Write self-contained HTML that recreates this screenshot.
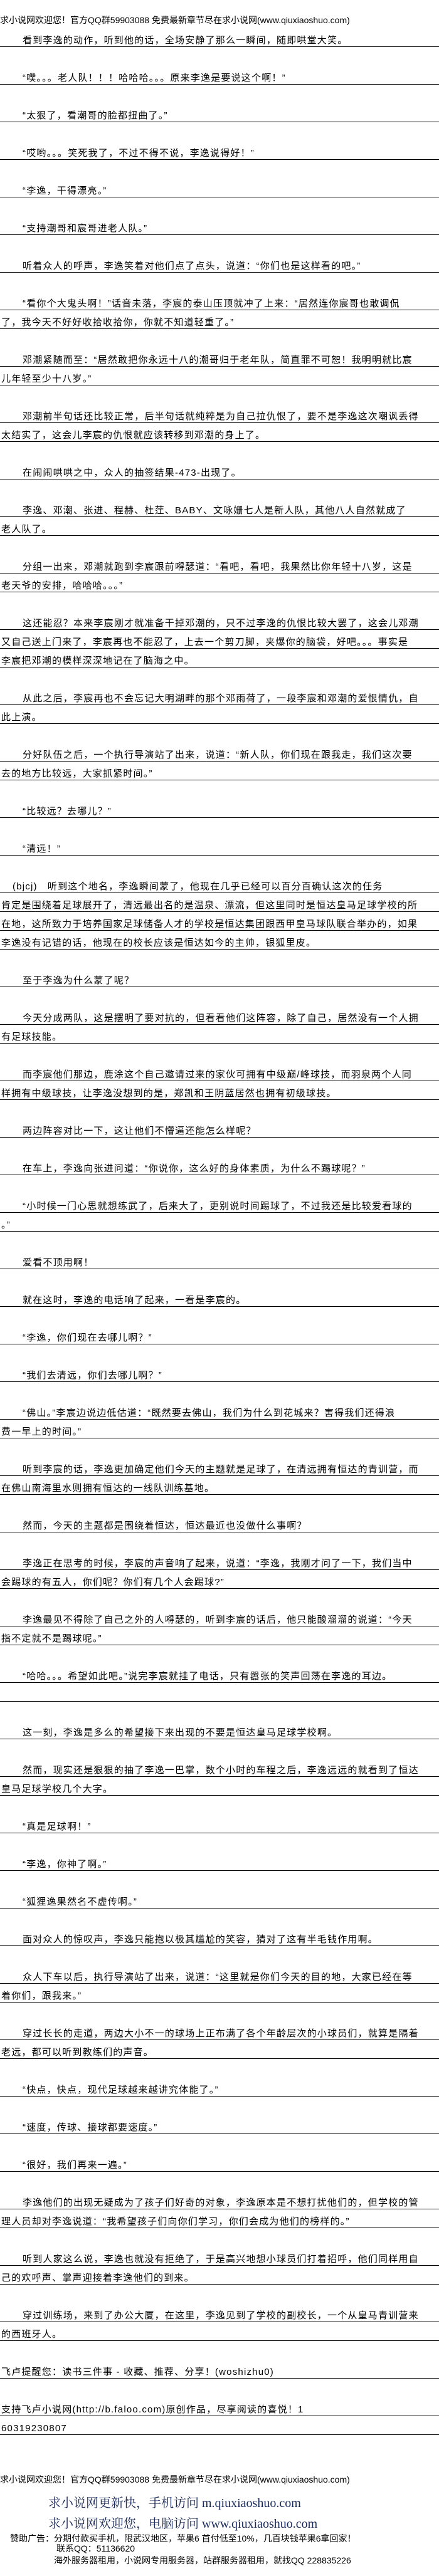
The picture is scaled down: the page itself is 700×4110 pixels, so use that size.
<!DOCTYPE html>
<html><head><meta charset="utf-8">
<style>
html,body{margin:0;padding:0;background:#fff;}
body{width:700px;height:4110px;position:relative;overflow:hidden;font-family:"Liberation Sans","Noto Sans CJK SC","WenQuanYi Zen Hei",sans-serif;color:#000;}
.l{position:absolute;left:0;width:700px;height:30px;box-sizing:border-box;border-bottom:1px solid #000;font-size:15px;line-height:16px;letter-spacing:1.2px;padding:12px 0 0 2px;white-space:nowrap;overflow:hidden;}
.i{text-indent:34px;}
.h{position:absolute;left:0;font-size:14px;white-space:nowrap;}
.b{position:absolute;left:77px;font-family:"Liberation Serif","Noto Serif CJK SC",serif;font-size:20px;color:#1a2a5a;white-space:nowrap;}
.s{position:absolute;font-size:14px;white-space:nowrap;}
</style></head><body>
<div class="h" style="top:22px">求小说网欢迎您！官方QQ群59903088 免费最新章节尽在求小说网(www.qiuxiaoshuo.com)</div>

<div class="l i" style="top:45px">看到李逸的动作，听到他的话，全场安静了那么一瞬间，随即哄堂大笑。</div>
<div class="l i" style="top:105px">“噗。。。老人队！！！哈哈哈。。。原来李逸是要说这个啊！”</div>
<div class="l i" style="top:165px">“太狠了，看潮哥的脸都扭曲了。”</div>
<div class="l i" style="top:225px">“哎哟。。。笑死我了，不过不得不说，李逸说得好！”</div>
<div class="l i" style="top:285px">“李逸，干得漂亮。”</div>
<div class="l i" style="top:345px">“支持潮哥和宸哥进老人队。”</div>
<div class="l i" style="top:405px">听着众人的呼声，李逸笑着对他们点了点头，说道：“你们也是这样看的吧。”</div>
<div class="l i" style="top:465px">“看你个大鬼头啊！”话音未落，李宸的泰山压顶就冲了上来：“居然连你宸哥也敢调侃</div>
<div class="l" style="top:495px">了，我今天不好好收拾收拾你，你就不知道轻重了。”</div>
<div class="l i" style="top:555px">邓潮紧随而至：“居然敢把你永远十八的潮哥归于老年队，简直罪不可恕！我明明就比宸</div>
<div class="l" style="top:585px">儿年轻至少十八岁。”</div>
<div class="l i" style="top:645px">邓潮前半句话还比较正常，后半句话就纯粹是为自己拉仇恨了，要不是李逸这次嘲讽丢得</div>
<div class="l" style="top:675px">太结实了，这会儿李宸的仇恨就应该转移到邓潮的身上了。</div>
<div class="l i" style="top:735px">在闹闹哄哄之中，众人的抽签结果-473-出现了。</div>
<div class="l i" style="top:795px">李逸、邓潮、张进、程赫、杜茳、BABY、文咏姗七人是新人队，其他八人自然就成了</div>
<div class="l" style="top:825px">老人队了。</div>
<div class="l i" style="top:885px">分组一出来，邓潮就跑到李宸跟前嘚瑟道：“看吧，看吧，我果然比你年轻十八岁，这是</div>
<div class="l" style="top:915px">老天爷的安排，哈哈哈。。。”</div>
<div class="l i" style="top:975px">这还能忍？本来李宸刚才就准备干掉邓潮的，只不过李逸的仇恨比较大罢了，这会儿邓潮</div>
<div class="l" style="top:1005px">又自己送上门来了，李宸再也不能忍了，上去一个剪刀脚，夹爆你的脑袋，好吧。。。事实是</div>
<div class="l" style="top:1035px">李宸把邓潮的模样深深地记在了脑海之中。</div>
<div class="l i" style="top:1095px">从此之后，李宸再也不会忘记大明湖畔的那个邓雨荷了，一段李宸和邓潮的爱恨情仇，自</div>
<div class="l" style="top:1125px">此上演。</div>
<div class="l i" style="top:1185px">分好队伍之后，一个执行导演站了出来，说道：“新人队，你们现在跟我走，我们这次要</div>
<div class="l" style="top:1215px">去的地方比较远，大家抓紧时间。”</div>
<div class="l i" style="top:1275px">“比较远？去哪儿？”</div>
<div class="l i" style="top:1335px">“清远！”</div>
<div class="l" style="top:1395px;padding-left:20px">(bjcj)　听到这个地名，李逸瞬间蒙了，他现在几乎已经可以百分百确认这次的任务</div>
<div class="l" style="top:1425px">肯定是围绕着足球展开了，清远最出名的是温泉、漂流，但这里同时是恒达皇马足球学校的所</div>
<div class="l" style="top:1455px">在地，这所致力于培养国家足球储备人才的学校是恒达集团跟西甲皇马球队联合举办的，如果</div>
<div class="l" style="top:1485px">李逸没有记错的话，他现在的校长应该是恒达如今的主帅，银狐里皮。</div>
<div class="l i" style="top:1545px">至于李逸为什么蒙了呢？</div>
<div class="l i" style="top:1605px">今天分成两队，这是摆明了要对抗的，但看看他们这阵容，除了自己，居然没有一个人拥</div>
<div class="l" style="top:1635px">有足球技能。</div>
<div class="l i" style="top:1695px">而李宸他们那边，鹿涂这个自己邀请过来的家伙可拥有中级巅/峰球技，而羽泉两个人同</div>
<div class="l" style="top:1725px">样拥有中级球技，让李逸没想到的是，郑凯和王阴蓝居然也拥有初级球技。</div>
<div class="l i" style="top:1785px">两边阵容对比一下，这让他们不懵逼还能怎么样呢？</div>
<div class="l i" style="top:1845px">在车上，李逸向张进问道：“你说你，这么好的身体素质，为什么不踢球呢？”</div>
<div class="l i" style="top:1905px">“小时候一门心思就想练武了，后来大了，更别说时间踢球了，不过我还是比较爱看球的</div>
<div class="l" style="top:1935px">。”</div>
<div class="l i" style="top:1995px">爱看不顶用啊！</div>
<div class="l i" style="top:2055px">就在这时，李逸的电话响了起来，一看是李宸的。</div>
<div class="l i" style="top:2115px">“李逸，你们现在去哪儿啊？”</div>
<div class="l i" style="top:2175px">“我们去清远，你们去哪儿啊？”</div>
<div class="l i" style="top:2235px">“佛山。”李宸边说边低估道：“既然要去佛山，我们为什么到花城来？害得我们还得浪</div>
<div class="l" style="top:2265px">费一早上的时间。”</div>
<div class="l i" style="top:2325px">听到李宸的话，李逸更加确定他们今天的主题就是足球了，在清远拥有恒达的青训营，而</div>
<div class="l" style="top:2355px">在佛山南海里水则拥有恒达的一线队训练基地。</div>
<div class="l i" style="top:2415px">然而，今天的主题都是围绕着恒达，恒达最近也没做什么事啊？</div>
<div class="l i" style="top:2475px">李逸正在思考的时候，李宸的声音响了起来，说道：“李逸，我刚才问了一下，我们当中</div>
<div class="l" style="top:2505px">会踢球的有五人，你们呢？你们有几个人会踢球?”</div>
<div class="l i" style="top:2565px">李逸最见不得除了自己之外的人嘚瑟的，听到李宸的话后，他只能酸溜溜的说道：“今天</div>
<div class="l" style="top:2595px">指不定就不是踢球呢。”</div>
<div class="l i" style="top:2655px">“哈哈。。。希望如此吧。”说完李宸就挂了电话，只有嚣张的笑声回荡在李逸的耳边。</div>
<div class="l" style="top:2685px"></div>
<div class="l i" style="top:2745px">这一刻，李逸是多么的希望接下来出现的不要是恒达皇马足球学校啊。</div>
<div class="l i" style="top:2805px">然而，现实还是狠狠的抽了李逸一巴掌，数个小时的车程之后，李逸远远的就看到了恒达</div>
<div class="l" style="top:2835px">皇马足球学校几个大字。</div>
<div class="l i" style="top:2895px">“真是足球啊！”</div>
<div class="l i" style="top:2955px">“李逸，你神了啊。”</div>
<div class="l i" style="top:3015px">“狐狸逸果然名不虚传啊。”</div>
<div class="l i" style="top:3075px">面对众人的惊叹声，李逸只能抱以极其尴尬的笑容，猜对了这有半毛钱作用啊。</div>
<div class="l i" style="top:3135px">众人下车以后，执行导演站了出来，说道：“这里就是你们今天的目的地，大家已经在等</div>
<div class="l" style="top:3165px">着你们，跟我来。”</div>
<div class="l i" style="top:3225px">穿过长长的走道，两边大小不一的球场上正布满了各个年龄层次的小球员们，就算是隔着</div>
<div class="l" style="top:3255px">老远，都可以听到教练们的声音。</div>
<div class="l i" style="top:3315px">“快点，快点，现代足球越来越讲究体能了。”</div>
<div class="l i" style="top:3375px">“速度，传球、接球都要速度。”</div>
<div class="l i" style="top:3435px">“很好，我们再来一遍。”</div>
<div class="l i" style="top:3495px">李逸他们的出现无疑成为了孩子们好奇的对象，李逸原本是不想打扰他们的，但学校的管</div>
<div class="l" style="top:3525px">理人员却对李逸说道：“我希望孩子们向你们学习，你们会成为他们的榜样的。”</div>
<div class="l i" style="top:3585px">听到人家这么说，李逸也就没有拒绝了，于是高兴地想小球员们打着招呼，他们同样用自</div>
<div class="l" style="top:3615px">己的欢呼声、掌声迎接着李逸他们的到来。</div>
<div class="l i" style="top:3675px">穿过训练场，来到了办公大厦，在这里，李逸见到了学校的副校长，一个从皇马青训营来</div>
<div class="l" style="top:3705px">的西班牙人。</div>
<div class="l" style="top:3765px">飞卢提醒您：读书三件事 - 收藏、推荐、分享！(woshizhu0)</div>
<div class="l" style="top:3825px">支持飞卢小说网(http://b.faloo.com)原创作品，尽享阅读的喜悦！1</div>
<div class="l" style="top:3855px">60319230807</div>

<div class="h" style="top:3946px">求小说网欢迎您！官方QQ群59903088 免费最新章节尽在求小说网(www.qiuxiaoshuo.com)</div>
<div class="b" style="top:3977px">求小说网更新快，手机访问 m.qiuxiaoshuo.com</div>
<div class="b" style="top:4010px">求小说网欢迎您，电脑访问 www.qiuxiaoshuo.com</div>
<div class="s" style="top:4040px;left:16px">赞助广告：分期付款买手机，限武汉地区，苹果6 首付低至10%，几百块钱苹果6拿回家！</div>
<div class="s" style="top:4056px;left:90px">联系QQ：51136620</div>
<div class="s" style="top:4075px;left:86px">海外服务器租用，小说网专用服务器，站群服务器租用，就找QQ 228835226</div>
</body></html>
